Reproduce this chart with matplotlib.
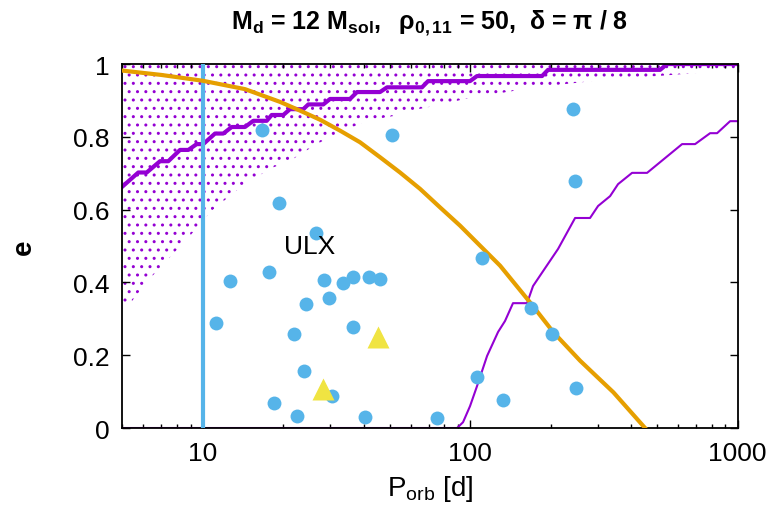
"""Eccentricity vs orbital period chart (ULX disc model)."""

import matplotlib

matplotlib.use("Agg")

import matplotlib.pyplot as plt
from matplotlib.ticker import FixedLocator, FuncFormatter, NullFormatter

plt.rcParams["font.family"] = ["Liberation Sans", "DejaVu Sans"]
plt.rcParams["mathtext.fontset"] = "custom"
plt.rcParams["mathtext.rm"] = "Liberation Sans"
plt.rcParams["mathtext.it"] = "Liberation Sans"
plt.rcParams["mathtext.bf"] = "Liberation Sans:bold"
plt.rcParams["hatch.linewidth"] = 1.0

PURPLE = "#9400D3"
ORANGE = "#E69F00"
SKY = "#56B4E9"
YELLOW = "#F0E442"

# observed systems (circles) and ULX systems (triangles)
obs_period = [16.6, 50.9, 19.3, 26.4, 12.6, 17.7, 28.5, 33.4, 36.4, 42.0,
              46.0, 29.7, 24.3, 11.2, 21.9, 36.6, 24.0, 30.5, 18.4, 22.6,
              40.3, 74.9, 241.7, 247.2, 110.4, 168.4, 202.8, 105.8, 132.7, 249.4]
obs_ecc = [0.819, 0.806, 0.618, 0.536, 0.404, 0.428, 0.407, 0.398, 0.416, 0.416,
           0.409, 0.358, 0.340, 0.288, 0.258, 0.277, 0.157, 0.089, 0.069, 0.034,
           0.031, 0.027, 0.876, 0.678, 0.467, 0.329, 0.258, 0.139, 0.078, 0.110]
ulx_period = [28.2, 45.1]
ulx_ecc = [0.106, 0.251]

# lower edge of the dotted (disrupted) region
zone_period = [5.0, 6.24, 8.96, 10.64, 12.64, 14.59, 18.35, 21.19, 26.67, 29.91,
               41.03, 52.34, 62.19, 79.12, 95.63, 129.3, 174.8, 285.5, 521.6, 1000]
zone_ecc = [0.315, 0.405, 0.528, 0.593, 0.638, 0.675, 0.716, 0.734, 0.780, 0.799,
            0.844, 0.858, 0.874, 0.890, 0.904, 0.920, 0.936, 0.953, 0.968, 0.984]

# thick purple staircase
upper_period = [5.0, 5.74, 6.17, 6.92, 7.43, 8.22, 8.83, 9.49, 10.04, 11.11,
                11.93, 12.83, 14.38, 15.45, 17.34, 18.10, 20.0, 21.19, 23.76,
                24.80, 28.22, 29.91, 35.52, 37.73, 45.99, 48.86, 66.01, 69.54,
                99.8, 106.0, 185.6, 195.4, 512.7, 544.5, 1000]
upper_ecc = [0.663, 0.702, 0.702, 0.733, 0.733, 0.764, 0.764, 0.780, 0.780, 0.809,
             0.809, 0.827, 0.827, 0.844, 0.844, 0.860, 0.860, 0.876, 0.876,
             0.889, 0.889, 0.904, 0.904, 0.923, 0.923, 0.936, 0.936, 0.953,
             0.953, 0.967, 0.967, 0.984, 0.984, 1.0, 1.0]

# thin purple curve
lower_period = [5.0, 89.3, 94.0, 99.8, 106.0, 115.6, 127.1, 134.9, 144.5, 163.1,
                171.7, 187.2, 213.0, 246.6, 280.5, 300.6, 333.3, 357.0, 402.8,
                458.4, 619.6, 693.0, 788.6, 837.5, 936.8, 1000]
lower_ecc = [0.0, 0.0, 0.016, 0.060, 0.115, 0.198, 0.264, 0.294, 0.343, 0.343,
             0.390, 0.431, 0.492, 0.577, 0.577, 0.610, 0.637, 0.670, 0.701,
             0.701, 0.780, 0.780, 0.810, 0.810, 0.843, 0.843]

# orange curve
orange_period = [5.0, 7.0, 10.0, 14.38, 19.44, 23.09, 27.44, 32.60, 38.72,
                 45.99, 54.64, 64.92, 77.14, 91.59, 108.8, 129.3, 167.4,
                 204.6, 257.4, 343.0, 450.5]
orange_ecc = [0.982, 0.970, 0.954, 0.931, 0.896, 0.872, 0.847, 0.817, 0.785,
              0.744, 0.702, 0.657, 0.606, 0.556, 0.501, 0.446, 0.345,
              0.263, 0.185, 0.098, 0.0]

vline_period = 10.0

fig = plt.figure(figsize=(7.71, 5.10), dpi=100)
ax = fig.add_axes([0.1586, 0.1588, 0.7982, 0.7137])

ax.fill_between(zone_period, zone_ecc, 1.0, facecolor="none",
                edgecolor=PURPLE, hatch="..", linewidth=0, zorder=1)
ax.plot(upper_period, upper_ecc, color=PURPLE, lw=3, zorder=2)
ax.plot(lower_period, lower_ecc, color=PURPLE, lw=1.5, zorder=2)
ax.plot([vline_period, vline_period], [0, 1], color=SKY, lw=3, zorder=3)
ax.plot(orange_period, orange_ecc, color=ORANGE, lw=3, zorder=4)
ax.plot(obs_period, obs_ecc, "o", color=SKY, ms=10, mec="none", zorder=5)
ax.plot(ulx_period, ulx_ecc, "^", color=YELLOW, ms=16, mec="none", zorder=5)

ax.text(25, 0.5, "ULX", fontsize=19, ha="center", va="center", zorder=6)

ax.set_xscale("log")
ax.set_xlim(5, 1000)
ax.set_ylim(0, 1)

ax.xaxis.set_major_locator(FixedLocator([10, 100, 1000]))
minor = [m * 10 ** k for k in range(0, 3) for m in range(2, 10)]
ax.xaxis.set_minor_locator(FixedLocator([v for v in minor if 5 <= v <= 1000]))
ax.xaxis.set_major_formatter(FuncFormatter(lambda v, _: f"{v:g}"))
ax.xaxis.set_minor_formatter(NullFormatter())
ax.set_yticks([0, 0.2, 0.4, 0.6, 0.8, 1.0])
ax.yaxis.set_major_formatter(FuncFormatter(lambda v, _: f"{v:g}"))

ax.tick_params(which="both", direction="in", top=True, right=True,
               labelsize=19, width=1)
ax.tick_params(which="major", length=6, pad=9)
ax.tick_params(which="minor", length=3)
for spine in ax.spines.values():
    spine.set_linewidth(1.3)

ax.set_xlabel(r"P$_{\rm orb}$ [d]", fontsize=20, labelpad=6)
ax.set_ylabel("e", fontsize=20, fontweight="bold", labelpad=26)
ax.set_title(r"$\mathbf{M_{d}}$ = 12 $\mathbf{M_{sol},}$  "
             r"$\mathbf{ρ_{0,11}}$ = 50,  δ = π / 8",
             fontsize=18, fontweight="bold", pad=26)

fig.savefig("out.png", dpi=100)
